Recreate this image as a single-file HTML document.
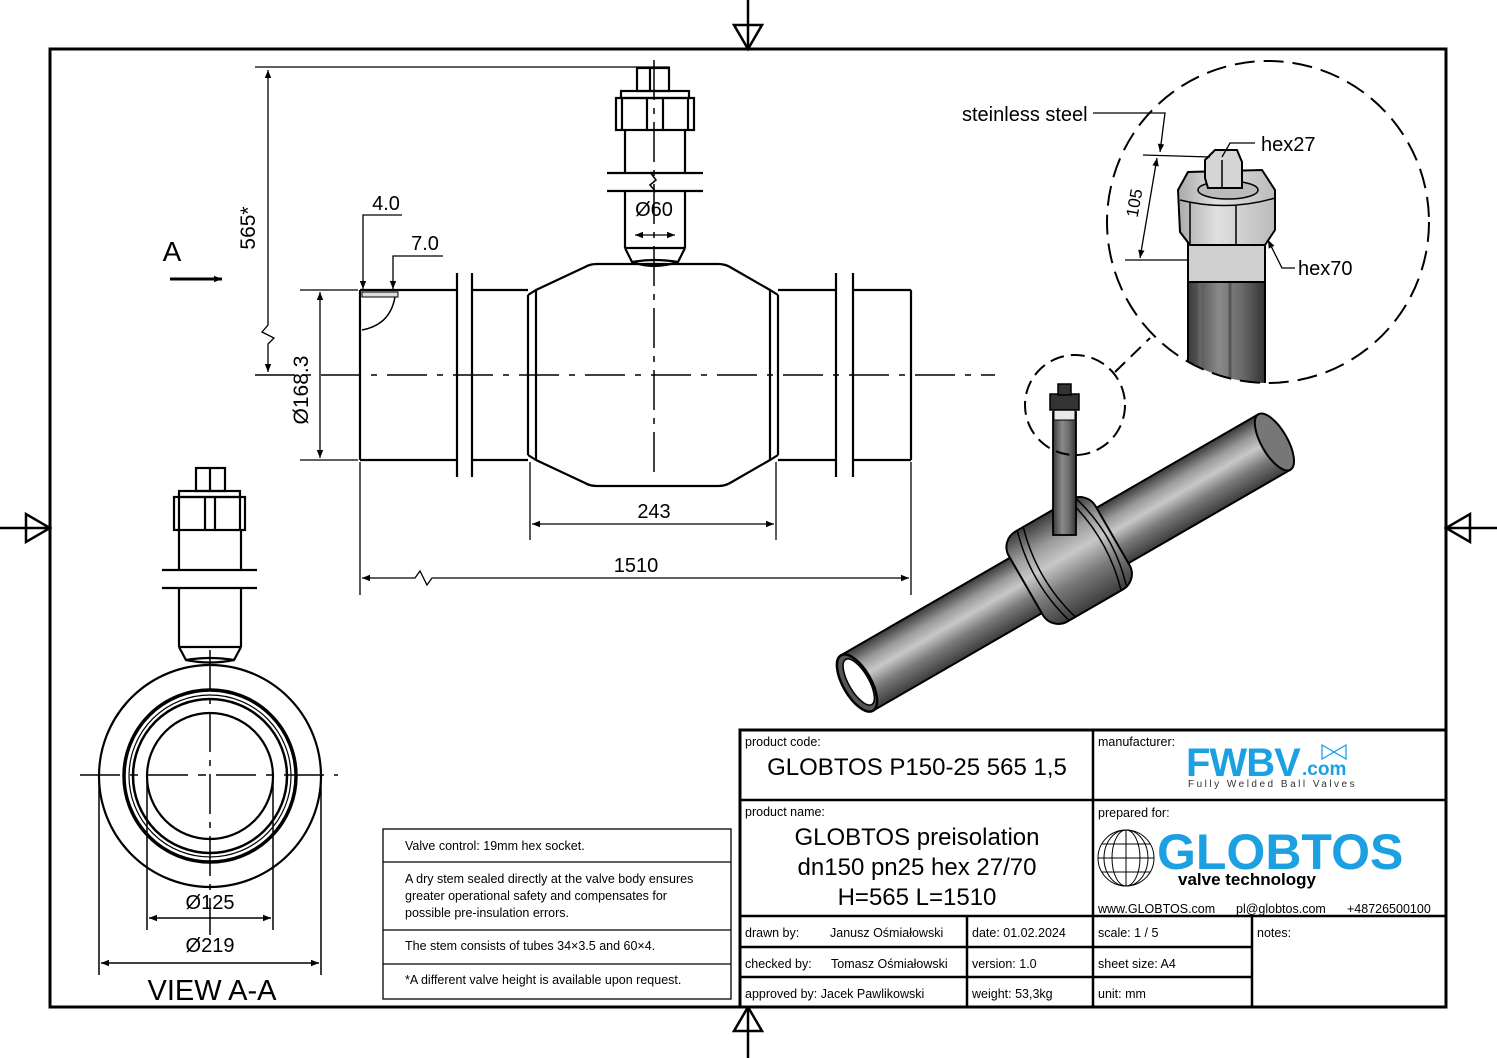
<!DOCTYPE html>
<html><head><meta charset="utf-8"><style>
html,body{margin:0;padding:0;background:#fff}
svg{display:block}
text{font-family:"Liberation Sans","DejaVu Sans",sans-serif;fill:#000}
</style></head><body>
<svg width="1497" height="1058" viewBox="0 0 1497 1058" xmlns="http://www.w3.org/2000/svg">
<defs>
<linearGradient id="cyl" x1="0" y1="0" x2="0" y2="1">
<stop offset="0" stop-color="#3a3a3a"/><stop offset="0.25" stop-color="#9a9a9a"/><stop offset="0.45" stop-color="#c8c8c8"/><stop offset="0.7" stop-color="#7a7a7a"/><stop offset="1" stop-color="#3c3c3c"/>
</linearGradient>
<linearGradient id="stemg" x1="0" y1="0" x2="1" y2="0">
<stop offset="0" stop-color="#3a3a3a"/><stop offset="0.4" stop-color="#8a8a8a"/><stop offset="0.7" stop-color="#6a6a6a"/><stop offset="1" stop-color="#333"/>
</linearGradient>
<linearGradient id="nutg" x1="0" y1="0" x2="1" y2="0">
<stop offset="0" stop-color="#aaa"/><stop offset="0.4" stop-color="#e0e0e0"/><stop offset="1" stop-color="#bbb"/>
</linearGradient>
<marker id="ar" viewBox="0 0 10 10" refX="10" refY="5" markerWidth="14" markerHeight="8" orient="auto-start-reverse" markerUnits="userSpaceOnUse"><path d="M0,1 L10,5 L0,9 z" fill="#000"/></marker>
</defs>

<rect x="50" y="49" width="1396" height="958" fill="none" stroke="#000" stroke-width="3"/>
<g fill="none" stroke="#000" stroke-width="2.5">
<line x1="748" y1="0" x2="748" y2="49"/><path d="M734,25 L762,25 L748,49 z"/>
<line x1="748" y1="1007" x2="748" y2="1058"/><path d="M734,1031 L762,1031 L748,1007 z"/>
<line x1="0" y1="528" x2="50" y2="528"/><path d="M26,514 L26,542 L50,528 z"/>
<line x1="1446" y1="528" x2="1497" y2="528"/><path d="M1470,514 L1470,542 L1446,528 z"/>
</g>

<g fill="none" stroke="#000" stroke-width="2.2">
<line x1="360" y1="290" x2="360" y2="460"/>
<line x1="360" y1="290" x2="457" y2="290"/><line x1="360" y1="460" x2="457" y2="460"/>
<line x1="457" y1="273" x2="457" y2="477"/><line x1="472" y1="273" x2="472" y2="477"/>
<line x1="472" y1="290" x2="528" y2="290"/><line x1="472" y1="460" x2="528" y2="460"/>
<line x1="528" y1="295" x2="528" y2="455"/>
<line x1="536" y1="290" x2="536" y2="460"/>
<path d="M528,295 L536,290 L585,267 Q590,264 597,264 L718,264 Q725,264 730,267 L770,290 L778,295"/>
<path d="M528,455 L536,460 L585,483 Q590,486 597,486 L718,486 Q725,486 730,483 L770,460 L778,455"/>
<line x1="770" y1="290" x2="770" y2="460"/>
<line x1="778" y1="295" x2="778" y2="455"/>
<line x1="778" y1="290" x2="836" y2="290"/><line x1="778" y1="460" x2="836" y2="460"/>
<line x1="836" y1="273" x2="836" y2="477"/><line x1="853" y1="273" x2="853" y2="477"/>
<line x1="853" y1="290" x2="911" y2="290"/><line x1="853" y1="460" x2="911" y2="460"/>
<line x1="911" y1="290" x2="911" y2="460"/>
<path d="M625,248 L632,262 Q654,270 678,262 L685,248"/>
<path d="M632,262 Q654,258 678,262"/>
<line x1="625" y1="248" x2="685" y2="248"/>
<line x1="625" y1="248" x2="625" y2="191"/><line x1="685" y1="248" x2="685" y2="191"/>
<line x1="625" y1="173" x2="625" y2="130"/><line x1="685" y1="173" x2="685" y2="130"/>
<line x1="607" y1="173" x2="703" y2="173"/><line x1="607" y1="191" x2="703" y2="191"/>
<rect x="616" y="98" width="78" height="32"/>
<line x1="622" y1="98" x2="622" y2="130"/><line x1="688" y1="98" x2="688" y2="130"/>
<line x1="647" y1="98" x2="647" y2="130"/><line x1="663" y1="98" x2="663" y2="130"/>
<rect x="621" y="91" width="68" height="7"/>
<rect x="637" y="68" width="32" height="23"/>
<line x1="650" y1="68" x2="650" y2="91"/>
</g>
<path d="M650,172 L656,180 L650,185 L656,192" fill="none" stroke="#000" stroke-width="1.5"/>
<g stroke="#000" stroke-width="1.5" fill="none">
<line x1="255" y1="375" x2="995" y2="375" stroke-dasharray="40,10,6,10"/>
<line x1="654" y1="60" x2="654" y2="478" stroke-dasharray="40,8,6,8"/>
</g>
<path d="M362,292 L398,292 L398,297 L362,297 z" fill="#ddd" stroke="#000" stroke-width="1"/>
<path d="M362,330 Q390,325 395,297" fill="none" stroke="#000" stroke-width="1.5"/>
<g stroke="#000" stroke-width="1.3" fill="none">
<line x1="255" y1="67" x2="670" y2="67"/>
<path d="M268,70 L268,325 L262,332 L274,338 L268,344 L268,372" marker-start="url(#ar)" marker-end="url(#ar)"/>
<line x1="300" y1="290" x2="358" y2="290"/><line x1="300" y1="460" x2="358" y2="460"/>
<line x1="320" y1="292" x2="320" y2="458" marker-start="url(#ar)" marker-end="url(#ar)"/>
<path d="M402,215 L363,215 L363,289" marker-end="url(#ar)"/>
<path d="M443,256 L393,256 L393,289" marker-end="url(#ar)"/>
<line x1="530" y1="462" x2="530" y2="540"/><line x1="776" y1="462" x2="776" y2="540"/>
<line x1="532" y1="524" x2="774" y2="524" marker-start="url(#ar)" marker-end="url(#ar)"/>
<line x1="360" y1="462" x2="360" y2="595"/><line x1="911" y1="462" x2="911" y2="595"/>
<path d="M362,578 L415,578 L420,571 L427,585 L432,578 L909,578" marker-start="url(#ar)" marker-end="url(#ar)"/>
<line x1="635" y1="235" x2="675" y2="235" marker-start="url(#ar)" marker-end="url(#ar)"/>
</g>
<text x="255" y="228" font-size="21" text-anchor="middle" transform="rotate(-90 255 228)">565*</text>
<text x="308" y="390" font-size="21" text-anchor="middle" transform="rotate(-90 308 390)">Ø168.3</text>
<text x="386" y="210" font-size="20" text-anchor="middle">4.0</text>
<text x="425" y="250" font-size="20" text-anchor="middle">7.0</text>
<text x="654" y="216" font-size="20" text-anchor="middle">Ø60</text>
<text x="654" y="518" font-size="20" text-anchor="middle">243</text>
<text x="636" y="572" font-size="20" text-anchor="middle">1510</text>
<text x="172" y="261" font-size="28" text-anchor="middle">A</text>
<line x1="170" y1="279" x2="222" y2="279" stroke="#000" stroke-width="3" marker-end="url(#ar)"/>

<g fill="none" stroke="#000" stroke-width="2.2">
<circle cx="210" cy="776" r="111"/>
<circle cx="210" cy="776" r="86" stroke-width="3.5"/>
<circle cx="210" cy="776" r="81" stroke-width="1.2"/>
<circle cx="210" cy="776" r="77" stroke-width="2.5"/>
<circle cx="210" cy="776" r="63"/>
<path d="M179,647 L186,660 Q210,665 234,660 L241,647"/>
<path d="M186,660 Q210,656 234,660"/>
<line x1="179" y1="647" x2="241" y2="647"/>
<line x1="179" y1="647" x2="179" y2="588"/><line x1="241" y1="647" x2="241" y2="588"/>
<line x1="179" y1="570" x2="179" y2="530"/><line x1="241" y1="570" x2="241" y2="530"/>
<line x1="162" y1="570" x2="257" y2="570"/><line x1="162" y1="588" x2="257" y2="588"/>
<rect x="174" y="497" width="71" height="33"/>
<line x1="179" y1="497" x2="179" y2="530"/><line x1="240" y1="497" x2="240" y2="530"/>
<line x1="205" y1="497" x2="205" y2="530"/><line x1="215" y1="497" x2="215" y2="530"/>
<rect x="179" y="491" width="61" height="6"/>
<rect x="196" y="468" width="29" height="23"/>
<line x1="210" y1="468" x2="210" y2="491"/>
</g>
<g stroke="#000" stroke-width="1.5" fill="none">
<line x1="80" y1="775" x2="338" y2="775" stroke-dasharray="40,10,8,10"/>
<line x1="210" y1="650" x2="210" y2="935" stroke-dasharray="40,8,6,8"/>
<line x1="147" y1="780" x2="147" y2="930"/><line x1="273" y1="780" x2="273" y2="930"/>
<line x1="99" y1="780" x2="99" y2="975"/><line x1="321" y1="780" x2="321" y2="975"/>
<line x1="149" y1="918" x2="271" y2="918" marker-start="url(#ar)" marker-end="url(#ar)"/>
<line x1="101" y1="963" x2="319" y2="963" marker-start="url(#ar)" marker-end="url(#ar)"/>
</g>
<text x="210" y="909" font-size="20" text-anchor="middle">Ø125</text>
<text x="210" y="952" font-size="20" text-anchor="middle">Ø219</text>
<text x="212" y="1000" font-size="29" text-anchor="middle">VIEW A-A</text>

<g fill="none" stroke="#000" stroke-width="1.3">
<rect x="383" y="829" width="348" height="170"/>
<line x1="383" y1="862" x2="731" y2="862"/>
<line x1="383" y1="930" x2="731" y2="930"/>
<line x1="383" y1="964" x2="731" y2="964"/>
</g>
<g font-size="12.5">
<text x="405" y="850">Valve control: 19mm hex socket.</text>
<text x="405" y="883">A dry stem sealed directly at the valve body ensures</text>
<text x="405" y="900">greater operational safety and compensates for</text>
<text x="405" y="917">possible pre-insulation errors.</text>
<text x="405" y="950">The stem consists of tubes 34×3.5 and 60×4.</text>
<text x="405" y="984">*A different valve height is available upon request.</text>
</g>

<g transform="translate(857,683) rotate(-30)">
<rect x="0" y="-32" width="482" height="64" fill="url(#cyl)" stroke="#000" stroke-width="2"/>
<ellipse cx="482" cy="0" rx="13" ry="32" fill="#777" stroke="#000" stroke-width="2"/>
<rect x="195" y="-52" width="100" height="104" rx="18" fill="url(#cyl)" stroke="#000" stroke-width="2"/>
<path d="M215,-52 Q200,0 215,52 M222,-52 Q207,0 222,52 M275,-52 Q290,0 275,52 M282,-50 Q297,0 282,50" fill="none" stroke="#000" stroke-width="1.5"/>
<ellipse cx="0" cy="0" rx="14" ry="32" fill="#555" stroke="#000" stroke-width="2.5"/>
<ellipse cx="2" cy="0" rx="10" ry="26" fill="#fff" stroke="#000" stroke-width="1.5"/>
</g>
<rect x="1053" y="412" width="23" height="123" fill="url(#stemg)" stroke="#000" stroke-width="1.8"/>
<rect x="1054" y="410" width="21" height="10" fill="#e8e8e8" stroke="#000" stroke-width="1"/>
<rect x="1050" y="394" width="29" height="16" fill="#333" stroke="#000" stroke-width="1.5"/>
<rect x="1058" y="384" width="13" height="11" fill="#333" stroke="#000" stroke-width="1.5"/>
<circle cx="1075" cy="405" r="50" fill="none" stroke="#000" stroke-width="2" stroke-dasharray="14,7"/>
<line x1="1115" y1="372" x2="1150" y2="338" stroke="#000" stroke-width="2" stroke-dasharray="14,8"/>

<defs><clipPath id="dc"><circle cx="1268" cy="222" r="161"/></clipPath></defs>
<g clip-path="url(#dc)">
<rect x="1188" y="242" width="77" height="160" fill="url(#stemg)" stroke="#000" stroke-width="2"/>
<line x1="1200" y1="282" x2="1200" y2="400" stroke="#666" stroke-width="3"/>
<line x1="1230" y1="282" x2="1230" y2="400" stroke="#555" stroke-width="3"/>
<rect x="1188" y="242" width="77" height="40" fill="#cfcfcf" stroke="#000" stroke-width="2"/>
</g>
<path d="M1178,190 L1188,172 L1262,170 L1275,190 L1275,230 L1265,245 L1190,245 L1180,232 z" fill="url(#nutg)" stroke="#000" stroke-width="2"/>
<line x1="1190" y1="202" x2="1190" y2="245" stroke="#000" stroke-width="1.5"/>
<line x1="1236" y1="205" x2="1236" y2="245" stroke="#000" stroke-width="1.5"/>
<path d="M1180,200 Q1228,212 1275,198" fill="none" stroke="#000" stroke-width="1.5"/>
<ellipse cx="1228" cy="190" rx="30" ry="9" fill="#bbb" stroke="#000" stroke-width="1.5"/>
<path d="M1205,160 L1215,150 L1237,150 L1242,162 L1242,188 L1208,188 L1205,178 z" fill="#d5d5d5" stroke="#000" stroke-width="2"/>
<line x1="1222" y1="160" x2="1222" y2="188" stroke="#000" stroke-width="1.5"/>
<circle cx="1268" cy="222" r="161" fill="none" stroke="#000" stroke-width="2" stroke-dasharray="20,9"/>
<g stroke="#000" stroke-width="1.3" fill="none">
<path d="M1093,113 L1165,113 L1160,152" marker-end="url(#ar)"/>
<line x1="1143" y1="155" x2="1210" y2="157"/>
<line x1="1125" y1="260" x2="1188" y2="260"/>
<line x1="1157" y1="158" x2="1140" y2="258" marker-start="url(#ar)" marker-end="url(#ar)"/>
<path d="M1255,143 L1230,143 L1222,157"/>
<path d="M1295,268 L1282,268 L1268,240" marker-end="url(#ar)"/>
</g>
<text x="962" y="121" font-size="20">steinless steel</text>
<text x="1261" y="151" font-size="20">hex27</text>
<text x="1298" y="275" font-size="20">hex70</text>
<text x="1140" y="204" font-size="17" text-anchor="middle" transform="rotate(-80 1140 204)">105</text>

<rect x="740" y="730" width="706" height="277" fill="#fff" stroke="#000" stroke-width="3"/>
<g stroke="#000" stroke-width="2.5" fill="none">
<line x1="1093" y1="730" x2="1093" y2="1007"/>
<line x1="740" y1="800" x2="1446" y2="800"/>
<line x1="740" y1="916" x2="1446" y2="916"/>
<line x1="967" y1="916" x2="967" y2="1007"/>
<line x1="1252" y1="916" x2="1252" y2="1007"/>
<line x1="740" y1="947" x2="1252" y2="947"/>
<line x1="740" y1="977" x2="1252" y2="977"/>
</g>
<g font-size="12.5">
<text x="745" y="746">product code:</text>
<text x="745" y="816">product name:</text>
<text x="1098" y="746">manufacturer:</text>
<text x="1098" y="817">prepared for:</text>
<text x="745" y="937">drawn by:</text><text x="830" y="937">Janusz Ośmiałowski</text>
<text x="745" y="968">checked by:</text><text x="831" y="968">Tomasz Ośmiałowski</text>
<text x="745" y="998">approved by: Jacek Pawlikowski</text>
<text x="972" y="937">date: 01.02.2024</text>
<text x="972" y="968">version:  1.0</text>
<text x="972" y="998">weight:  53,3kg</text>
<text x="1098" y="937">scale: 1 / 5</text>
<text x="1098" y="968">sheet size:  A4</text>
<text x="1098" y="998">unit:  mm</text>
<text x="1257" y="937">notes:</text>
<text x="1098" y="913">www.GLOBTOS.com</text>
<text x="1236" y="913">pl@globtos.com</text>
<text x="1347" y="913">+48726500100</text>
</g>
<text x="917" y="775" font-size="24" text-anchor="middle">GLOBTOS P150-25 565 1,5</text>
<text x="917" y="845" font-size="24" text-anchor="middle">GLOBTOS preisolation</text>
<text x="917" y="875" font-size="24" text-anchor="middle">dn150 pn25 hex 27/70</text>
<text x="917" y="905" font-size="24" text-anchor="middle">H=565 L=1510</text>
<text x="1186" y="776" font-size="40" font-weight="bold" style="fill:#1ba1e2" letter-spacing="-1">FWBV</text>
<text x="1302" y="775" font-size="19" font-weight="bold" style="fill:#1ba1e2">.com</text>
<path d="M1322,745 L1334,752 L1322,759 z M1346,745 L1334,752 L1346,759 z" fill="none" stroke="#1ba1e2" stroke-width="1.3"/>
<text x="1188" y="787" font-size="10" letter-spacing="2.5" style="fill:#333">Fully Welded Ball Valves</text>
<g fill="none" stroke="#000" stroke-width="1">
<circle cx="1126" cy="858" r="28"/>
<ellipse cx="1126" cy="858" rx="14" ry="28"/><ellipse cx="1126" cy="858" rx="22" ry="28"/>
<line x1="1126" y1="830" x2="1126" y2="886"/>
<line x1="1098" y1="858" x2="1154" y2="858"/>
<line x1="1102" y1="844" x2="1150" y2="844"/><line x1="1102" y1="872" x2="1150" y2="872"/>
</g>
<text x="1157" y="869" font-size="50" font-weight="bold" style="fill:#1ba1e2">GLOBTOS</text>
<text x="1178" y="885" font-size="17" font-family="Liberation Mono" font-weight="bold">valve technology</text>
</svg>
</body></html>
